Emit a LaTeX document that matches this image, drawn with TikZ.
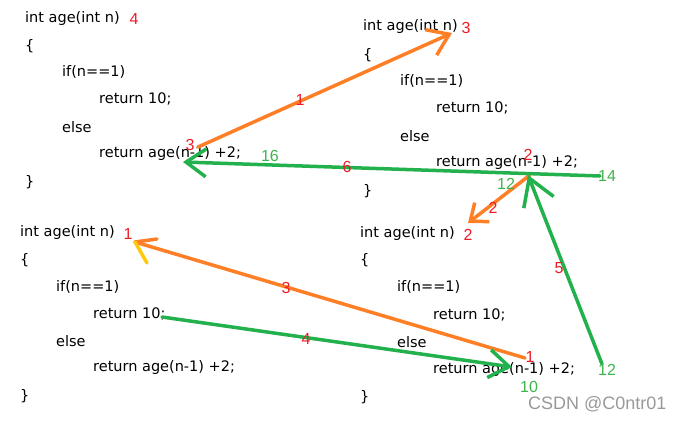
\documentclass[tikz,border=0pt]{standalone}
\usepackage{fontspec}
\setmainfont{DejaVu Sans}
\newfontfamily\markfont{Liberation Sans}
\usetikzlibrary{arrows.meta}

\definecolor{penorange}{HTML}{FF7F27}
\definecolor{pengreen}{HTML}{22B14C}
\definecolor{penyellow}{HTML}{FFC90E}
\definecolor{stepred}{HTML}{ED1C24}
\definecolor{valgreen}{HTML}{3DB54A}

\begin{document}
\begin{tikzpicture}[x=1pt, y=-1pt,
  code/.style={anchor=west, inner sep=0pt, font=\fontsize{14.5}{17}\selectfont},
  stepnum/.style={inner sep=0pt, text=stepred, font=\markfont\fontsize{16}{18}\selectfont},
  valnum/.style={inner sep=0pt, text=valgreen, font=\markfont\fontsize{16}{18}\selectfont},
  orangepen/.style={penorange, line width=3.5pt, line cap=round},
  greenpen/.style={pengreen, line width=3.5pt, line cap=round},
  barb/.style={-{Straight Barb[length=20pt, width=28pt]}}]

  \useasboundingbox (0,0) rectangle (686,421);

  % Call age(4), top left
  \node[code] (b1sig)   at (25,18)  {int age(int n)};
  \node[code] (b1open)  at (25,46)  {\{};
  \node[code] (b1if)    at (62,72)  {if(n==1)};
  \node[code] (b1ret)   at (99,99)  {return 10;};
  \node[code] (b1else)  at (62,127) {else};
  \node[code] (b1rec)   at (99,154) {return age(n-1) +2;};
  \node[code] (b1close) at (25,182) {\}};

  % Call age(3), top right
  \node[code] (b2sig)   at (363,26)  {int age(int n)};
  \node[code] (b2open)  at (363,55)  {\{};
  \node[code] (b2if)    at (400,81)  {if(n==1)};
  \node[code] (b2ret)   at (436,108) {return 10;};
  \node[code] (b2else)  at (400,136) {else};
  \node[code] (b2rec)   at (436,163) {return age(n-1) +2;};
  \node[code] (b2close) at (363,191) {\}};

  % Call age(1), bottom left
  \node[code] (b3sig)   at (20,232) {int age(int n)};
  \node[code] (b3open)  at (20,260) {\{};
  \node[code] (b3if)    at (56,287) {if(n==1)};
  \node[code] (b3ret)   at (93,314) {return 10;};
  \node[code] (b3else)  at (56,341) {else};
  \node[code] (b3rec)   at (93,368) {return age(n-1) +2;};
  \node[code] (b3close) at (20,396) {\}};

  % Call age(2), bottom right
  \node[code] (b4sig)   at (360,233) {int age(int n)};
  \node[code] (b4open)  at (360,260) {\{};
  \node[code] (b4if)    at (397,287) {if(n==1)};
  \node[code] (b4ret)   at (433,315) {return 10;};
  \node[code] (b4else)  at (397,342) {else};
  \node[code] (b4rec)   at (433,370) {return age(n-1) +2;};
  \node[code] (b4close) at (360,397) {\}};

  % n of each call
  \node[stepnum] (n4) at (134,19)  {4};
  \node[stepnum] (n3) at (466,28)  {3};
  \node[stepnum] (n1) at (128,234) {1};
  \node[stepnum] (n2) at (468,235) {2};

  % Arrow ends
  \coordinate (o1s) at (198,147);
  \coordinate (o1t) at (452,33);
  \coordinate (o2s) at (530,175);
  \coordinate (o2t) at (468,223);
  \coordinate (o3s) at (525,358);
  \coordinate (o3t) at (135,242);
  \coordinate (g4s) at (162,317);
  \coordinate (g4t) at (512,367);
  \coordinate (g5s) at (602,364);
  \coordinate (g5t) at (528,175);
  \coordinate (g6s) at (600,176);
  \coordinate (g6t) at (183,162);

  % Calls going down (orange)
  \draw[orangepen, barb] (o1s) -- (o1t);
  \draw[orangepen, -{Straight Barb[length=15pt, width=24pt]}] (o2s) -- (o2t);
  \draw[orangepen] (o3s) -- (o3t);
  \draw[orangepen] (o3t) -- ++(22,-3);
  \draw[penyellow, line width=3.5pt, line cap=round] (o3t) -- ++(12,21);

  % Values coming back (green)
  \draw[greenpen, barb] (g4s) -- (g4t);
  \draw[greenpen, -{Straight Barb[length=26pt, width=32pt]}] (g5s) -- (g5t);
  \draw[greenpen, barb] (g6s) -- (g6t);

  % Step numbers
  \node[stepnum] (s1)  at (300,100) {1};
  \node[stepnum] (s1b) at (190,145) {3};
  \node[stepnum] (s2)  at (528,155) {2};
  \node[stepnum] (s2b) at (493,208) {2};
  \node[stepnum] (s3)  at (286,288) {3};
  \node[stepnum] (s4)  at (306,339) {4};
  \node[stepnum] (s5)  at (559,268) {5};
  \node[stepnum] (s6)  at (347,167) {6};
  \node[stepnum] (s1c) at (530,357) {1};

  % Returned values
  \node[valnum] (v16) at (270,156) {16};
  \node[valnum] (v14) at (607,176) {14};
  \node[valnum] (v12) at (506,184) {12};
  \node[valnum] (v12b) at (607,370) {12};
  \node[valnum] (v10) at (529,387) {10};

  % Watermark
  \node[anchor=west, inner sep=0pt, text=black!40, font=\markfont\fontsize{18}{20}\selectfont] (wm) at (528,404) {CSDN @C0ntr01};

\end{tikzpicture}
\end{document}
